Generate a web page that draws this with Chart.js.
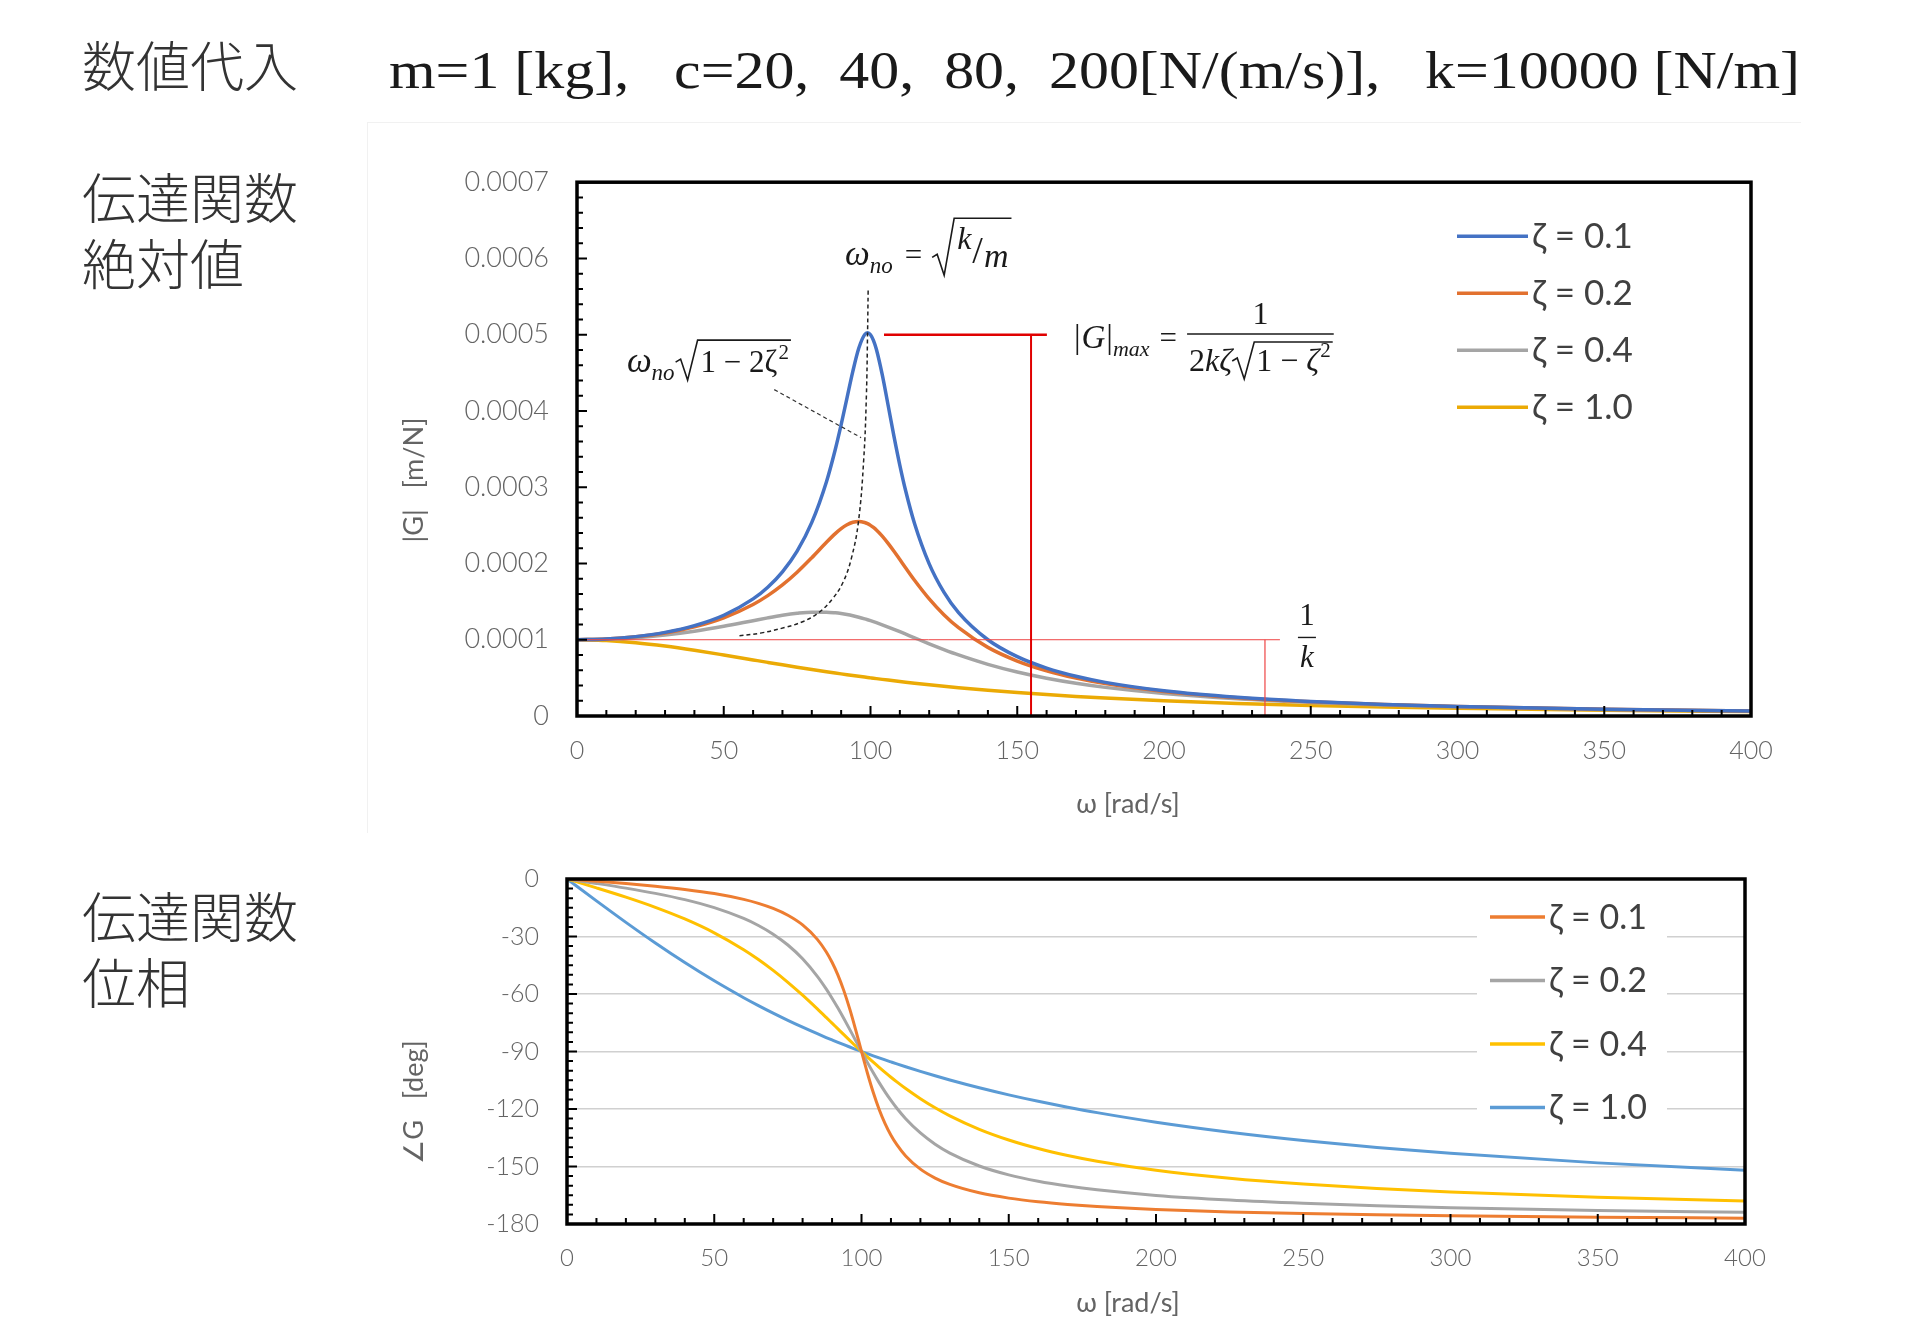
<!DOCTYPE html>
<html>
<head>
<meta charset="utf-8">
<script src="https://cdn.jsdelivr.net/npm/chart.js@4.4.1/dist/chart.umd.min.js"></script>
<style>
  body { margin: 0; background: #fff; width: 1920px; height: 1327px; position: relative; overflow: hidden; }
  .jp { position: absolute; left: 82px; font-family: 'Noto Sans CJK JP', sans-serif; font-weight: 300; font-size: 54px; line-height: 66px; color: #333; white-space: pre; }
  #params { position: absolute; left: 389px; top: 45px; font-family: 'Liberation Serif', 'DejaVu Serif', serif; font-size: 52px; line-height: 1; color: #1a1a1a; white-space: pre; transform-origin: 0 0; }
  .box { position: absolute; border-left: 1px solid #f1f1f1; border-top: 1px solid #f1f1f1; }
  canvas { position: absolute; }
</style>
</head>
<body>
<div class="jp" style="top:31px">数値代入</div>
<div id="params">m=1 [kg],   c=20,  40,  80,  200[N/(m/s)],   k=10000 [N/m]</div>
<div class="jp" style="top:163px">伝達関数
絶対値</div>
<div class="jp" style="top:882px">伝達関数
位相</div>
<div class="box" style="left:367px;top:122px;width:1433px;height:710px"></div>
<canvas id="gainChart" width="1420" height="680" style="left:380px;top:150px;width:1420px;height:680px"></canvas>
<canvas id="phaseChart" width="1420" height="477" style="left:380px;top:850px;width:1420px;height:477px"></canvas>
<script>
// ω [rad/s]
const omega = [0, 10, 20, 30, 40, 50, 60, 65, 70, 75, 80, 85, 88, 90, 92, 94, 96, 98, 99, 100, 101,
  102, 104, 106, 108, 110, 112, 115, 120, 125, 130, 140, 150, 160, 170, 180, 200, 225, 250, 275, 300, 350, 400];

// |G| in units of 1e-4 m/N
const gain01 = [1.0000, 1.0099, 1.0408, 1.0965, 1.1851, 1.3216, 1.5357, 1.6893, 1.8908, 2.1622, 2.5383, 3.0728, 3.4949, 3.8208, 4.1721, 4.5225, 4.8218, 5.0010, 5.0252, 5.0000, 4.9261,
  4.8086, 4.4756, 4.0750, 3.6675, 3.2880, 2.9502, 2.5245, 1.9952, 1.6245, 1.3562, 1.0000, 0.7779, 0.6280, 0.5207, 0.4408, 0.3304, 0.2447, 0.1896, 0.1519, 0.1247, 0.0887, 0.0666];
const gain02 = [1.0000, 1.0093, 1.0381, 1.0895, 1.1695, 1.2883, 1.4630, 1.5790, 1.7188, 1.8851, 2.0761, 2.2786, 2.3918, 2.4566, 2.5077, 2.5406, 2.5515, 2.5381, 2.5221, 2.5000, 2.4722,
  2.4391, 2.3589, 2.2642, 2.1601, 2.0511, 1.9410, 1.7800, 1.5357, 1.3287, 1.1574, 0.8998, 0.7212, 0.5931, 0.4979, 0.4250, 0.3221, 0.2403, 0.1871, 0.1503, 0.1236, 0.0882, 0.0663];
const gain04 = [1.0000, 1.0068, 1.0275, 1.0626, 1.1125, 1.1765, 1.2500, 1.2868, 1.3203, 1.3467, 1.3618, 1.3616, 1.3527, 1.3429, 1.3300, 1.3141, 1.2954, 1.2739, 1.2622, 1.2500, 1.2372,
  1.2240, 1.1962, 1.1669, 1.1365, 1.1053, 1.0736, 1.0258, 0.9469, 0.8716, 0.8012, 0.6779, 0.5771, 0.4956, 0.4295, 0.3755, 0.2941, 0.2251, 0.1780, 0.1445, 0.1197, 0.0863, 0.0652];
const gain10 = [1.0000, 0.9901, 0.9615, 0.9174, 0.8621, 0.8000, 0.7353, 0.7030, 0.6711, 0.6400, 0.6098, 0.5806, 0.5636, 0.5525, 0.5416, 0.5309, 0.5204, 0.5101, 0.5050, 0.5000, 0.4950,
  0.4901, 0.4804, 0.4709, 0.4616, 0.4525, 0.4436, 0.4306, 0.4098, 0.3902, 0.3717, 0.3378, 0.3077, 0.2809, 0.2571, 0.2358, 0.2000, 0.1650, 0.1379, 0.1168, 0.1000, 0.0755, 0.0588];

// ∠G [deg]
const phase01 = [0, -1.16, -2.39, -3.77, -5.44, -7.59, -10.62, -12.69, -15.35, -18.92, -23.96, -31.49, -37.96, -43.45, -50.14, -58.24, -67.79, -78.58, -84.26, -90.00, -95.68,
  -101.20, -111.42, -120.24, -127.61, -133.67, -138.63, -144.50, -151.39, -156.04, -159.35, -163.74, -166.50, -168.41, -169.80, -170.87, -172.41, -173.68, -174.56, -175.21, -175.71, -176.44, -176.95];
const phase02 = [0, -2.31, -4.76, -7.51, -10.78, -14.93, -20.56, -24.24, -28.77, -34.44, -41.63, -50.78, -57.34, -62.18, -67.35, -72.80, -78.46, -84.23, -87.12, -90.00, -92.85,
  -95.66, -101.10, -106.25, -111.06, -115.51, -119.59, -125.04, -132.51, -138.37, -143.00, -149.74, -154.36, -157.69, -160.21, -162.18, -165.07, -167.51, -169.22, -170.48, -171.47, -172.91, -173.91];
const phase04 = [0, -4.62, -9.46, -14.77, -20.85, -28.07, -36.87, -41.99, -47.68, -53.90, -60.64, -67.80, -72.23, -75.22, -78.21, -81.20, -84.17, -87.11, -88.56, -90.00, -91.42,
  -92.83, -95.60, -98.29, -100.90, -103.42, -105.85, -109.32, -114.62, -119.36, -123.57, -130.60, -136.17, -140.63, -144.26, -147.26, -151.93, -156.10, -159.15, -161.47, -163.30, -166.02, -167.96];
const phase10 = [0, -11.42, -22.62, -33.40, -43.60, -53.13, -61.93, -66.05, -69.98, -73.74, -77.32, -80.73, -82.70, -83.97, -85.23, -86.46, -87.66, -88.84, -89.43, -90.00, -90.57,
  -91.13, -92.25, -93.34, -94.41, -95.45, -96.48, -97.98, -100.39, -102.68, -104.86, -108.92, -112.62, -115.99, -119.07, -121.89, -126.87, -132.08, -136.40, -140.03, -143.13, -148.11, -151.93];

const zetaLabels = ['ζ = 0.1', 'ζ = 0.2', 'ζ = 0.4', 'ζ = 1.0'];

// peak locus (dashed) ω, |G| x1e-4
const locusOmega = [99.2, 99.0, 98.6, 97.7, 95.9, 93.5, 90.6, 86.9, 82.5, 77.1, 70.7, 62.9, 55.1];
const locusGain = [5.58, 5.03, 4.20, 3.37, 2.55, 2.07, 1.75, 1.53, 1.36, 1.24, 1.16, 1.09, 1.05];
const leaderOmega = [67.2, 96.8];
const leaderGain = [4.28, 3.65];

// red markers
const peakBarOmega = [104.6, 160.1];
const peakDropOmega = 154.7;
const staticBarOmega = [0, 239.5];
const staticDropOmega = 234.4;

const omegaTicks = [0, 50, 100, 150, 200, 250, 300, 350, 400];
const gainTicks = [0, 0.0001, 0.0002, 0.0003, 0.0004, 0.0005, 0.0006, 0.0007];
const phaseTicks = [-180, -150, -120, -90, -60, -30, 0];

const U = 1e-4;
const fam = 'Lato, "Open Sans", sans-serif';
const gray = '#646464';

function pts(xs, ys, k) {
  return xs.map((x, i) => ({ x: x, y: ys[i] * k }));
}
function curve(label, data, color, width, order) {
  return { label: label, data: data, borderColor: color, backgroundColor: color, borderWidth: width,
    pointRadius: 0, cubicInterpolationMode: 'monotone', fill: false, order: order };
}
function mark(data, color, width, dash, order) {
  return { label: '', data: data, borderColor: color, borderWidth: width, borderDash: dash || [],
    pointRadius: 0, tension: 0, fill: false, order: order, borderCapStyle: 'butt' };
}

// frame, inner ticks and axis titles
const framePlugin = {
  id: 'frame',
  afterDatasetsDraw(chart, args, o) {
    const { ctx, chartArea: a, scales: { x, y } } = chart;
    ctx.save();
    ctx.strokeStyle = '#000';
    ctx.lineWidth = 2;
    ctx.beginPath();
    const nx = Math.round((x.max - x.min) / o.xMinor);
    for (let i = 0; i <= nx; i++) {
      const px = x.getPixelForValue(x.min + i * o.xMinor);
      const len = (i % o.xEvery === 0) ? 10 : 6;
      ctx.moveTo(px, a.bottom); ctx.lineTo(px, a.bottom - len);
    }
    const ny = Math.round((y.max - y.min) / o.yMinor);
    for (let i = 0; i <= ny; i++) {
      const py = y.getPixelForValue(y.min + i * o.yMinor);
      const len = (i % o.yEvery === 0) ? 10 : 6;
      ctx.moveTo(a.left, py); ctx.lineTo(a.left + len, py);
    }
    ctx.stroke();
    ctx.lineWidth = 3.5;
    ctx.strokeRect(a.left, a.top, a.width, a.height);

    ctx.fillStyle = gray;
    ctx.textAlign = 'center';
    ctx.textBaseline = 'middle';
    ctx.font = '27px ' + fam;
    ctx.fillText(o.xTitle, o.xTitleAt[0], o.xTitleAt[1]);
    ctx.translate(o.yTitleAt[0], o.yTitleAt[1]);
    ctx.rotate(-Math.PI / 2);
    ctx.fillText(o.yTitle, 0, 0);
    ctx.restore();
  }
};

const legendPlugin = {
  id: 'zlegend',
  afterDatasetsDraw(chart, args, o) {
    const { ctx, chartArea: a } = chart;
    ctx.save();
    if (o.box) {
      ctx.fillStyle = '#fff';
      ctx.fillRect(a.left + o.box[0], a.top + o.box[1], o.box[2], o.box[3]);
    }
    ctx.font = o.size + 'px ' + fam;
    ctx.textBaseline = 'middle';
    let row = 0;
    chart.data.datasets.forEach(ds => {
      if (zetaLabels.indexOf(ds.label) < 0) return;
      const yy = a.top + o.top + row * o.gap;
      const xx = a.left + o.left;
      ctx.strokeStyle = ds.borderColor;
      ctx.lineWidth = 3.5;
      ctx.beginPath(); ctx.moveTo(xx, yy); ctx.lineTo(xx + o.line, yy); ctx.stroke();
      ctx.fillStyle = '#404040';
      ctx.fillText(ds.label, xx + o.line + 4, yy + 1);
      row++;
    });
    ctx.restore();
  }
};

function t(ctx, s, x, y, size, italic) {
  ctx.font = (italic ? 'italic ' : '') + size + 'px "Liberation Serif", "DejaVu Serif", serif';
  ctx.fillText(s, x, y);
  return x + ctx.measureText(s).width;
}
function w(ctx, s, size, italic) {
  ctx.font = (italic ? 'italic ' : '') + size + 'px "Liberation Serif", "DejaVu Serif", serif';
  return ctx.measureText(s).width;
}
function radical(ctx, x, base, top, end) {
  ctx.beginPath();
  ctx.moveTo(x, base - 10);
  ctx.lineTo(x + 5, base - 13);
  ctx.lineTo(x + 12, base + 8);
  ctx.lineTo(x + 22, top);
  ctx.lineTo(end, top);
  ctx.stroke();
}

const mathPlugin = {
  id: 'math',
  afterDatasetsDraw(chart) {
    const { ctx, scales: { x, y } } = chart;
    ctx.save();
    ctx.fillStyle = '#1a1a1a';
    ctx.strokeStyle = '#1a1a1a';
    ctx.lineWidth = 1.6;
    ctx.textBaseline = 'alphabetic';

    // ω_no = √(k/m)
    let X = x.getPixelForValue(91.3), B = y.getPixelForValue(5.91 * U);
    let cx = t(ctx, 'ω', X, B, 35, true);
    cx = t(ctx, 'no', cx, B + 8, 23, true);
    cx = t(ctx, '=', cx + 12, B, 31, false);
    let r0 = cx + 10;
    let c2 = t(ctx, 'k', r0 + 25, B - 16, 32, true);
    c2 = t(ctx, '/', c2 + 1, B - 2, 38, false);
    c2 = t(ctx, 'm', c2 + 1, B + 2, 34, true);
    radical(ctx, r0, B + 2, B - 47, c2 + 3);

    // ω_no √(1 − 2ζ²)
    X = x.getPixelForValue(17.0); B = y.getPixelForValue(4.51 * U);
    cx = t(ctx, 'ω', X, B, 35, true);
    cx = t(ctx, 'no', cx, B + 8, 23, true);
    r0 = cx + 1;
    c2 = t(ctx, '1 − 2', r0 + 25, B, 31, false);
    c2 = t(ctx, 'ζ', c2, B, 31, false);
    c2 = t(ctx, '2', c2 + 1, B - 13, 21, false);
    radical(ctx, r0, B, B - 32, c2 + 2);

    // |G|max = 1 / (2kζ√(1−ζ²))
    X = x.getPixelForValue(169.3); B = y.getPixelForValue(4.83 * U);
    cx = t(ctx, '|', X, B, 33, false);
    cx = t(ctx, 'G', cx + 1, B, 33, true);
    cx = t(ctx, '|', cx + 1, B, 33, false);
    cx = t(ctx, 'max', cx, B + 8, 22, true);
    cx = t(ctx, '=', cx + 10, B, 31, false);
    const fx = cx + 10;
    const barY = y.getPixelForValue(5.01 * U);
    const dB = barY + 37;
    let d = t(ctx, '2', fx + 2, dB, 32, false);
    d = t(ctx, 'kζ', d, dB, 32, true);
    const r1 = d;
    d = t(ctx, '1 − ', r1 + 24, dB, 32, false);
    d = t(ctx, 'ζ', d, dB, 32, true);
    d = t(ctx, '2', d + 1, dB - 14, 21, false);
    radical(ctx, r1, dB, dB - 29, d + 2);
    ctx.lineWidth = 1.4;
    ctx.beginPath(); ctx.moveTo(fx, barY); ctx.lineTo(d + 3, barY); ctx.stroke();
    const nw = w(ctx, '1', 32, false);
    t(ctx, '1', (fx + d + 3) / 2 - nw / 2, barY - 10, 32, false);

    // 1/k
    X = x.getPixelForValue(248.7); const kb = y.getPixelForValue(1.03 * U);
    ctx.beginPath(); ctx.moveTo(X - 9, kb); ctx.lineTo(X + 9, kb); ctx.stroke();
    t(ctx, '1', X - w(ctx, '1', 31, false) / 2, kb - 12, 31, false);
    t(ctx, 'k', X - w(ctx, 'k', 31, true) / 2, kb + 30, 31, true);
    ctx.restore();
  }
};

function scaleX(height, size) {
  return {
    type: 'linear', min: 0, max: 400,
    afterBuildTicks: s => { s.ticks = omegaTicks.map(v => ({ value: v })); },
    afterFit: s => { s.height = height; },
    ticks: { color: gray, font: { family: fam, size: size, weight: '300' }, padding: 20, maxRotation: 0, autoSkip: false },
    grid: { display: false, drawTicks: false },
    border: { display: false }
  };
}

// upper chart: |G|
new Chart(document.getElementById('gainChart').getContext('2d'), {
  type: 'line',
  data: {
    datasets: [
      mark(peakBarOmega.map(v => ({ x: v, y: 5 * U })), '#e00000', 2.6, [], 0),
      mark([{ x: peakDropOmega, y: 5 * U }, { x: peakDropOmega, y: 0 }], '#e00000', 2, [], 0),
      mark(staticBarOmega.map(v => ({ x: v, y: 1 * U })), '#ee4444', 1, [], 0),
      mark([{ x: staticDropOmega, y: 1 * U }, { x: staticDropOmega, y: 0 }], '#ee4444', 1.2, [], 0),
      Object.assign(mark(pts(locusOmega, locusGain, U), '#222', 1.5, [4, 3], 1), { tension: 0.4 }),
      mark(pts(leaderOmega, leaderGain, U), '#333', 1.2, [4, 3], 1),
      curve(zetaLabels[0], pts(omega, gain01, U), '#4472C4', 3.5, 2),
      curve(zetaLabels[1], pts(omega, gain02, U), '#E2712F', 3.5, 3),
      curve(zetaLabels[2], pts(omega, gain04, U), '#A5A5A5', 3.5, 4),
      curve(zetaLabels[3], pts(omega, gain10, U), '#EBAA05', 3.5, 5)
    ]
  },
  options: {
    responsive: false, animation: false, events: [],
    layout: { padding: { top: 31, right: 49, left: 0, bottom: 0 } },
    plugins: {
      legend: { display: false }, tooltip: { enabled: false },
      frame: { xMinor: 10, xEvery: 5, yMinor: 0.00002, yEvery: 5,
        xTitle: 'ω [rad/s]', xTitleAt: [748, 654], yTitle: '|G|   [m/N]', yTitleAt: [34, 330] },
      zlegend: { left: 880, top: 54, gap: 57, line: 71, size: 35 }
    },
    scales: {
      x: scaleX(114, 25),
      y: {
        min: 0, max: 0.0007,
        afterBuildTicks: s => { s.ticks = gainTicks.map(v => ({ value: v })); },
        afterFit: s => { s.width = 197; },
        ticks: { color: gray, font: { family: fam, size: 27, weight: '300' }, padding: 16, callback: v => v === 0 ? '0' : v.toFixed(4) },
        grid: { display: true, drawOnChartArea: false, drawTicks: true, tickLength: 12, tickColor: 'rgba(0,0,0,0)' },
        border: { display: false }
      }
    }
  },
  plugins: [framePlugin, legendPlugin, mathPlugin]
});

// lower chart: phase
new Chart(document.getElementById('phaseChart').getContext('2d'), {
  type: 'line',
  data: {
    datasets: [
      curve(zetaLabels[0], pts(omega, phase01, 1), '#ED7D31', 3, 1),
      curve(zetaLabels[1], pts(omega, phase02, 1), '#A5A5A5', 3, 2),
      curve(zetaLabels[2], pts(omega, phase04, 1), '#FFC000', 3, 3),
      curve(zetaLabels[3], pts(omega, phase10, 1), '#5B9BD5', 3, 4)
    ]
  },
  options: {
    responsive: false, animation: false, events: [],
    layout: { padding: { top: 29, right: 55, left: 0, bottom: 0 } },
    plugins: {
      legend: { display: false }, tooltip: { enabled: false },
      frame: { xMinor: 10, xEvery: 5, yMinor: 5, yEvery: 6,
        xTitle: 'ω [rad/s]', xTitleAt: [748, 453], yTitle: '∠G   [deg]', yTitleAt: [34, 252] },
      zlegend: { left: 923, top: 38, gap: 63.5, line: 55, size: 34, box: [910, 12, 190, 248] }
    },
    scales: {
      x: scaleX(103, 24),
      y: {
        min: -180, max: 0,
        afterBuildTicks: s => { s.ticks = phaseTicks.map(v => ({ value: v })); },
        afterFit: s => { s.width = 187; },
        ticks: { color: gray, font: { family: fam, size: 25, weight: '300' }, padding: 14 },
        grid: { display: true, drawTicks: true, tickLength: 14, tickColor: 'rgba(0,0,0,0)', color: '#D0D0D0', lineWidth: 1.5 },
        border: { display: false }
      }
    }
  },
  plugins: [framePlugin, legendPlugin]
});

// stretch parameter line to its width in the reference
const p = document.getElementById('params');
p.style.transform = 'scaleX(' + (1411 / p.getBoundingClientRect().width) + ')';
</script>
</body>
</html>
